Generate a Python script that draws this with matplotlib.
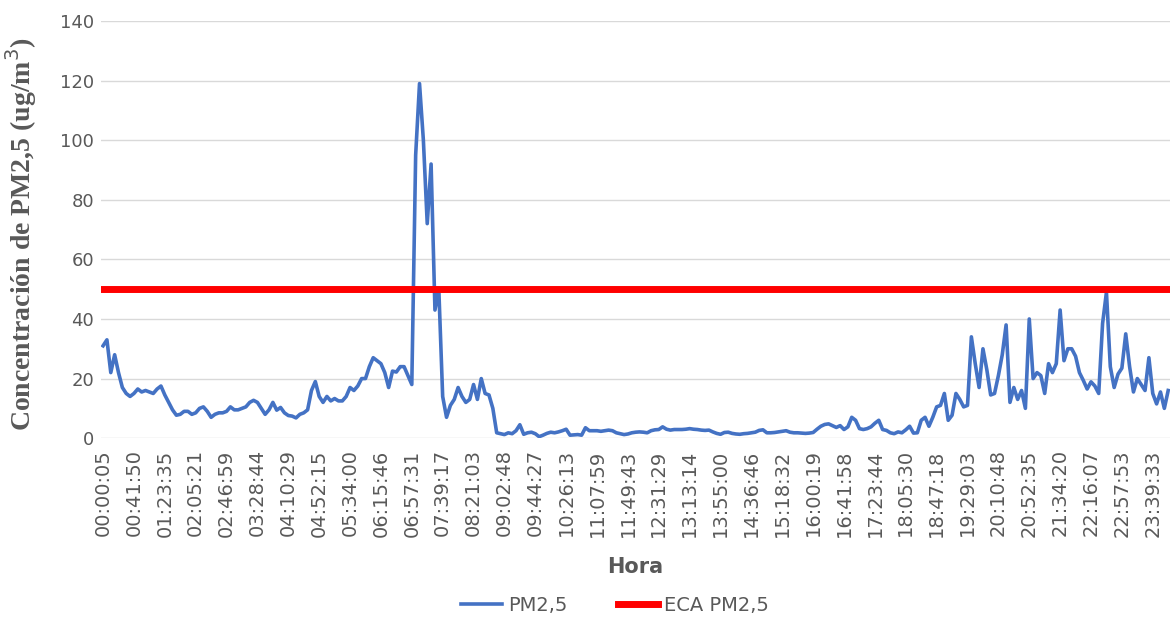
import numpy as np
import matplotlib
matplotlib.use("Agg")
import matplotlib.pyplot as plt

# valores de PM2,5 (ug/m3)
pm25 = [31, 33, 22, 28, 22, 17, 15, 14, 15, 16.5,
        15.5, 16, 15.5, 15, 16.5, 17.5, 14.5, 12, 9.5, 7.7,
        8, 9, 9, 8, 8.5, 10, 10.5, 9, 7, 8,
        8.5, 8.5, 9, 10.5, 9.5, 9.5, 10, 10.5, 12, 12.7,
        12, 10, 8, 9.5, 12, 9.4, 10.3, 8.5, 7.6, 7.4,
        6.8, 8, 8.5, 9.5, 16, 19, 14, 12, 14, 12.5,
        13.3, 12.5, 12.5, 14, 17, 16, 17.5, 20, 20, 24,
        27, 26, 25, 22, 17, 22.5, 22.2, 24, 24, 21,
        18, 95, 119, 100, 72, 92, 43, 50, 14, 7,
        11, 13, 17, 14, 12, 13, 18, 13, 20, 15,
        14.5, 10, 1.8, 1.5, 1.2, 1.8, 1.5, 2.5, 4.5, 1.3,
        1.8, 2, 1.5, 0.5, 1, 1.6, 2, 1.8, 2.1, 2.5,
        3, 1, 1.1, 1.2, 1, 3.5, 2.5, 2.5, 2.5, 2.3,
        2.5, 2.7, 2.5, 1.8, 1.5, 1.2, 1.4, 1.8, 2, 2.1,
        2, 1.8, 2.5, 2.8, 2.9, 3.8, 3, 2.7, 2.9, 2.9,
        2.9, 3, 3.2, 3, 2.9, 2.7, 2.6, 2.7, 2.1, 1.6,
        1.3, 1.9, 2, 1.6, 1.4, 1.3, 1.5, 1.6, 1.8, 2,
        2.6, 2.8, 1.8, 1.8, 1.9, 2.1, 2.3, 2.5, 2, 1.8,
        1.8, 1.7, 1.6, 1.7, 1.9, 3, 4, 4.6, 4.8, 4.2,
        3.6, 4.2, 2.9, 3.8, 7, 6, 3.2, 2.9, 3.2, 3.8,
        5, 6, 2.9, 2.6, 1.8, 1.5, 2.1, 1.8, 2.8, 4,
        1.7, 1.8, 6, 7, 4, 7, 10.5, 11, 15, 6,
        7.7, 15, 13, 10.5, 11, 34, 25, 17, 30, 23,
        14.5, 15, 21, 28, 38, 12, 17, 13, 16, 10,
        40, 20, 22, 21, 15, 25, 22, 25, 43, 26,
        30, 30, 27.5, 22, 19.4, 16.5, 18.9, 17.5, 15, 38.5,
        49, 24, 17, 21.5, 23.5, 35, 24, 15.5, 20, 18,
        16, 27, 15, 11.5, 15.5, 10, 16]

eca = 50  # estandar de calidad ambiental

horas = ["00:00:05", "00:41:50", "01:23:35", "02:05:21", "02:46:59", "03:28:44",
         "04:10:29", "04:52:15", "05:34:00", "06:15:46", "06:57:31", "07:39:17",
         "08:21:03", "09:02:48", "09:44:27", "10:26:13", "11:07:59", "11:49:43",
         "12:31:29", "13:13:14", "13:55:00", "14:36:46", "15:18:32", "16:00:19",
         "16:41:58", "17:23:44", "18:05:30", "18:47:18", "19:29:03", "20:10:48",
         "20:52:35", "21:34:20", "22:16:07", "22:57:53", "23:39:33"]
paso = 8  # una etiqueta cada 8 datos

x = np.arange(len(pm25))
gris = '#595959'
angosta = ['Liberation Sans Narrow', 'DejaVu Sans']

fig = plt.figure(figsize=(11.76, 6.18), dpi=100)
ax = fig.add_axes([0.086, 0.291, 0.909, 0.675])

ax.plot(x, pm25, color='#4472C4', lw=2.6, label='PM2,5')
ax.plot(x, [eca] * len(x), color='#FF0000', lw=5, label='ECA PM2,5')

ax.set_ylim(0, 140)
ax.set_yticks(np.arange(0, 141, 20))
ax.set_xlim(-0.5, len(x) - 0.5)
ax.set_xticks(x[::paso][:len(horas)])
ax.set_xticklabels(horas, rotation=90)

ax.grid(axis='y', color='#D9D9D9', lw=1)
ax.set_axisbelow(True)
for s in ['top', 'right', 'left', 'bottom']:
    ax.spines[s].set_visible(False)
ax.tick_params(axis='y', length=0, labelsize=13, colors=gris, pad=5)
ax.tick_params(axis='x', length=0, labelsize=14, colors=gris, pad=8)
for t in ax.get_yticklabels():
    t.set_family(angosta)
for t in ax.get_xticklabels():
    t.set_family('DejaVu Sans')

ax.set_ylabel('Concentración de PM2,5 (ug/m$^3$)', family='Liberation Serif',
              fontweight='bold', fontsize=20, color=gris)
ax.yaxis.set_label_coords(-0.058, 0.49)
ax.set_xlabel('Hora', fontweight='bold', fontsize=15, color=gris, family=angosta)
ax.xaxis.set_label_coords(0.5, -0.285)

fig.legend(loc='center', bbox_to_anchor=(0.523, 0.021), ncol=2, frameon=False,
           prop={'family': angosta, 'size': 14}, labelcolor=gris,
           handlelength=2.1, columnspacing=2.6, handletextpad=0.3)

plt.savefig('out.png', dpi=100)
